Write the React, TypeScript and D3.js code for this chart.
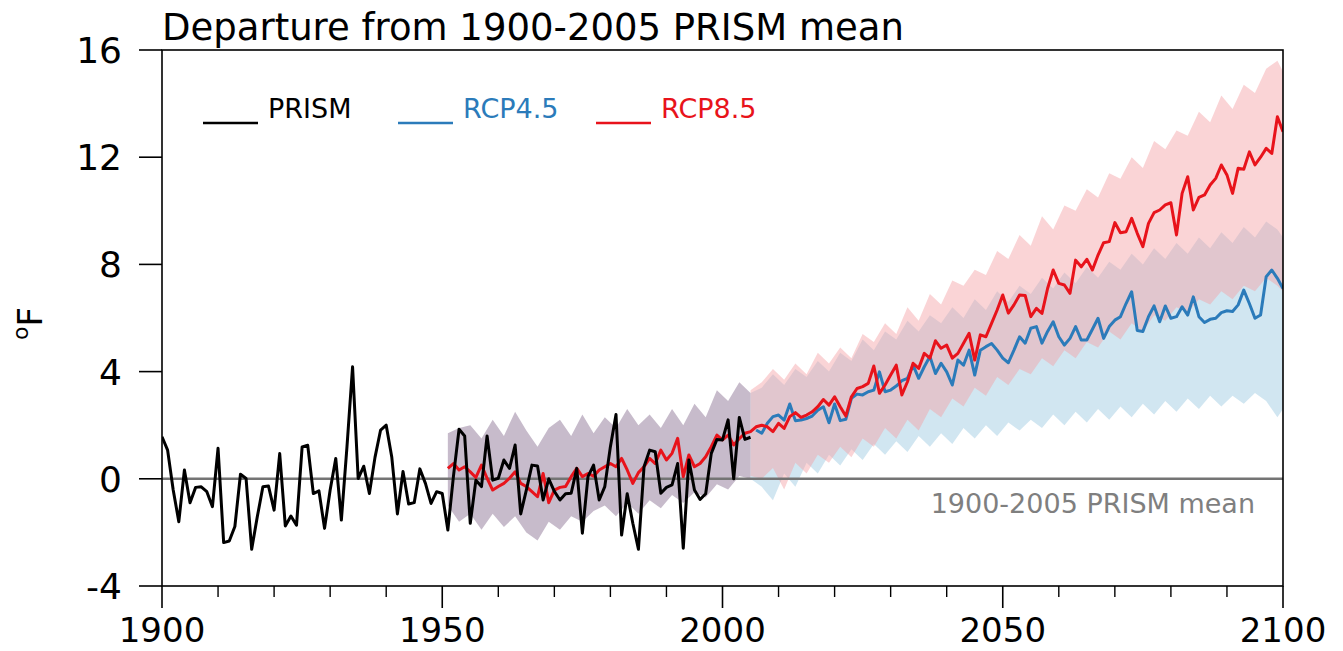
import * as d3 from 'd3';

// observed PRISM annual departures, 1900-2005 (°F)
const prismStart = 1900;
const prism = [
  1.57, 1.07, -0.42, -1.6, 0.33, -0.89, -0.32, -0.3, -0.48, -1.04,
  1.14, -2.38, -2.32, -1.78, 0.17, 0.01, -2.63, -1.42, -0.3, -0.27,
  -1.17, 0.94, -1.76, -1.39, -1.73, 1.19, 1.25, -0.55, -0.45, -1.85,
  -0.42, 0.76, -1.54, 1.19, 4.18, 0.01, 0.47, -0.55, 0.8, 1.82,
  2.0, 0.8, -1.31, 0.27, -0.94, -0.89, 0.37, -0.17, -0.92, -0.48,
  -0.55, -1.91, 0.1, 1.85, 1.6, -1.66, -0.05, -0.29, 1.6, -0.05,
  0.02, 0.7, 0.39, 1.26, -1.31, -0.42, 0.51, 0.48, -0.79, 0.0,
  -0.47, -0.79, -0.56, -0.54, 0.39, -2.03, 0.08, 0.51, -0.79, -0.29,
  1.2, 2.4, -2.1, -0.56, -1.66, -2.63, 0.45, 1.07, 1.01, -0.54,
  -0.32, -0.23, 0.57, -2.59, 0.7, -0.42, -0.77, -0.56, 0.95, 1.47,
  1.45, 2.2, 0.0, 2.29, 1.47, 1.55,
];

// model mean, historical + RCP8.5, 1951-2100
const rcp85Start = 1951;
const rcp85 = [
  0.39, 0.57, 0.33, 0.45, 0.26, 0.05, 0.51, 0.02, -0.42,
  -0.29, -0.17, 0.02, 0.26, -0.17, -0.29, -0.48, -0.67, 0.2, -0.89,
  -0.42, -0.32, -0.29, 0.08, 0.39, 0.08, 0.2, 0.1, 0.33, 0.45,
  0.57, 0.45, 0.76, 0.33, -0.17, 0.23, 0.45, 0.76, 0.57, 1.07,
  0.7, 0.95, 1.51, 0.08, 0.89, 0.45, 0.57, 0.82, 1.2, 1.63,
  1.45, 1.63, 1.26, 1.5, 1.7, 1.76,
  1.94, 2.0, 1.94, 1.76, 2.07, 1.88, 2.32, 2.47, 2.29, 2.38,
  2.5, 2.69, 2.96, 2.75, 3.06, 2.69, 2.34, 3.06, 3.37, 3.44,
  3.56, 4.21, 3.19, 3.5, 3.87, 4.24, 3.13, 3.62, 4.31, 4.12,
  4.68, 4.5, 5.15, 4.87, 4.99, 4.5, 4.68, 5.06, 5.43, 4.43,
  5.37, 5.3, 5.8, 6.3, 6.86, 6.18, 6.49, 6.86, 6.84, 6.05,
  6.36, 6.17, 7.1, 7.79, 7.29, 7.23, 6.92, 8.16, 7.91, 8.19,
  7.79, 8.35, 8.81, 8.85, 9.56, 9.18, 9.22, 9.72, 9.16, 8.66,
  9.53, 9.93, 10.03, 10.22, 10.3, 9.1, 10.65, 11.27, 10.03, 10.5,
  10.59, 10.96, 11.21, 11.71, 11.34, 10.65, 11.59, 11.55, 12.2, 11.71,
  12.0, 12.33, 12.14, 13.51, 12.95,
];

// model mean, RCP4.5, 2006-2100
const rcp45Start = 2006;
const rcp45 = [
  1.82, 1.7, 2.07, 2.32, 2.38, 2.19, 2.79, 2.17, 2.19, 2.25,
  2.34, 2.56, 2.69, 2.09, 2.79, 2.17, 2.22, 3.0, 3.16, 3.13,
  3.25, 3.31, 3.99, 3.25, 3.31, 3.46, 3.66, 3.75, 4.24, 3.75,
  4.18, 4.56, 3.93, 4.31, 3.99, 3.5, 4.43, 4.24, 4.8, 3.87,
  4.8, 4.93, 5.05, 4.8, 4.5, 4.33, 4.8, 5.3, 5.06, 5.62,
  5.68, 5.06, 5.5, 5.86, 5.3, 4.99, 5.24, 5.68, 5.18, 5.18,
  5.58, 5.99, 5.24, 5.68, 5.92, 6.05, 6.54, 6.98, 5.53, 5.5,
  6.05, 6.45, 5.86, 6.45, 5.99, 6.05, 6.42, 6.11, 6.79, 6.05,
  5.83, 5.95, 5.99, 6.2, 6.27, 6.24, 6.49, 7.04, 6.54, 5.99,
  6.11, 7.54, 7.79, 7.48, 7.1,
];

// model range, historical (1951-2005, every other year)
const histBandYears = d3.range(1951, 2006, 2);
const histUpper = [
  1.7, 1.9, 2.0, 1.5, 2.2, 1.6, 2.5, 1.8, 1.2, 1.9,
  2.2, 1.6, 2.4, 1.7, 2.3, 1.9, 2.6, 2.0, 2.4, 1.9,
  2.6, 2.0, 2.8, 2.3, 3.3, 2.9, 3.6, 3.2,
];
const histLower = [
  -1.0, -1.6, -1.3, -1.9, -1.3, -1.8, -1.4, -2.0, -2.3, -1.6,
  -1.9, -1.4, -1.6, -1.2, -1.0, -1.4, -0.9, -1.3, -0.8, -1.1,
  -0.6, -0.9, -0.5, -0.7, -0.2, -0.4, 0.1, 0.0,
];

// model range, scenarios (2005-2099 every other year, then 2100)
const futureBandYears = [...d3.range(2005, 2100, 2), 2100];
const rcp85Upper = [
  3.3, 3.6, 4.1, 3.7, 4.3, 3.9, 4.7, 4.3, 4.9, 4.5,
  5.4, 5.1, 5.8, 5.4, 6.4, 5.9, 6.9, 6.5, 7.4, 7.2,
  7.8, 7.6, 8.5, 8.2, 9.1, 8.7, 9.8, 9.3, 10.2, 10.0,
  10.8, 10.5, 11.4, 11.2, 12.0, 11.6, 12.6, 12.3, 13.0, 12.8,
  13.7, 13.3, 14.3, 13.8, 14.7, 14.4, 15.3, 15.6, 15.2,
];
const rcp85Lower = [
  0.1, 0.0, 0.4, -0.4, 0.6, 0.2, 0.9, 0.6, 1.2, 0.8,
  1.5, 1.2, 1.9, 1.5, 2.2, 1.8, 2.6, 2.3, 3.0, 2.7,
  3.4, 3.1, 3.8, 3.5, 4.1, 3.9, 4.5, 4.2, 4.8, 4.5,
  5.1, 4.9, 5.5, 5.2, 5.8, 5.5, 6.1, 5.9, 6.4, 6.2,
  6.7, 6.5, 7.0, 6.7, 7.2, 7.0, 7.5, 7.2, 7.0,
];
const rcp45Upper = [
  3.2, 3.4, 3.9, 3.5, 4.1, 3.8, 4.4, 4.0, 4.7, 4.4,
  5.2, 4.8, 5.5, 5.2, 5.9, 5.5, 6.1, 5.8, 6.4, 6.0,
  6.7, 6.3, 7.0, 6.6, 7.2, 6.9, 7.5, 7.1, 7.7, 7.3,
  7.9, 7.5, 8.1, 7.8, 8.4, 8.0, 8.6, 8.2, 8.8, 8.4,
  9.0, 8.6, 9.2, 8.8, 9.4, 9.0, 9.6, 9.3, 9.0,
];
const rcp45Lower = [
  0.0, -0.3, -0.8, 0.2, -0.3, 0.6, 0.2, 0.9, 0.5, 1.1,
  0.7, 1.3, 0.9, 1.4, 1.0, 1.6, 1.2, 1.7, 1.3, 1.9,
  1.5, 2.0, 1.6, 2.1, 1.8, 2.2, 1.9, 2.4, 2.0, 2.5,
  2.1, 2.6, 2.2, 2.7, 2.3, 2.8, 2.4, 2.9, 2.5, 3.0,
  2.6, 3.1, 2.7, 3.1, 2.8, 3.2, 2.9, 2.3, 2.6,
];

const yTicks = [-4, 0, 4, 8, 12, 16];
const xMajorTicks = [1900, 1950, 2000, 2050, 2100];
const xMinorTicks = d3.range(1910, 2100, 10).filter((y) => y % 50 !== 0);

const W = 1343;
const H = 651;
const M = { left: 162, right: 1283, top: 50, bottom: 586 };
const FONT = 'DejaVu Sans, sans-serif';

const App = () => {
  const x = d3.scaleLinear().domain([1900, 2100]).range([M.left, M.right]);
  const y = d3.scaleLinear().domain([-4, 16]).range([M.bottom, M.top]);

  const series = (vals: number[], start: number) =>
    vals.map((v, i) => [start + i, v] as [number, number]);

  const line = d3
    .line<[number, number]>()
    .x((d) => x(d[0]))
    .y((d) => y(d[1]));

  const band = (years: number[], lo: number[], hi: number[]) =>
    d3
      .area<number>()
      .x((yr) => x(yr))
      .y0((_yr, i) => y(lo[i]))
      .y1((_yr, i) => y(hi[i]))(years) || '';

  return (
    <svg
      width={W}
      height={H}
      style={{ position: 'absolute', left: 0, top: 0, background: '#fff' }}
      fontFamily={FONT}
    >
      <defs>
        <clipPath id="plot">
          <rect x={M.left} y={M.top} width={M.right - M.left} height={M.bottom - M.top} />
        </clipPath>
      </defs>

      <g clipPath="url(#plot)">
        <path d={band(futureBandYears, rcp45Lower, rcp45Upper)} fill="#a4cde4" fillOpacity={0.5} />
        <path d={band(futureBandYears, rcp85Lower, rcp85Upper)} fill="#f5a0a4" fillOpacity={0.45} />
        <path d={band(histBandYears, histLower, histUpper)} fill="#b4a4ba" fillOpacity={0.75} />

        <line x1={M.left} x2={M.right} y1={y(0)} y2={y(0)} stroke="#747474" strokeWidth={2.4} />

        <path d={line(series(rcp45, rcp45Start)) || ''} fill="none" stroke="#2b7bba" strokeWidth={3} strokeLinejoin="round" />
        <path d={line(series(rcp85, rcp85Start)) || ''} fill="none" stroke="#e8131b" strokeWidth={3} strokeLinejoin="round" />
        <path d={line(series(prism, prismStart)) || ''} fill="none" stroke="#000" strokeWidth={3} strokeLinejoin="round" />
      </g>

      <rect
        x={M.left}
        y={M.top}
        width={M.right - M.left}
        height={M.bottom - M.top}
        fill="none"
        stroke="#000"
        strokeWidth={1.6}
      />

      {yTicks.map((t) => (
        <g key={t}>
          <line x1={M.left - 23} x2={M.left} y1={y(t)} y2={y(t)} stroke="#000" strokeWidth={1.6} />
          <text x={M.left - 40} y={y(t) + 13} textAnchor="end" fontSize={36}>
            {t}
          </text>
        </g>
      ))}

      {xMinorTicks.map((t) => (
        <line key={t} x1={x(t)} x2={x(t)} y1={M.bottom} y2={M.bottom + 11} stroke="#000" strokeWidth={1.4} />
      ))}
      {xMajorTicks.map((t) => (
        <g key={t}>
          <line x1={x(t)} x2={x(t)} y1={M.bottom} y2={M.bottom + 22} stroke="#000" strokeWidth={1.6} />
          <text x={x(t)} y={642} textAnchor="middle" fontSize={34}>
            {t}
          </text>
        </g>
      ))}

      <text x={M.left} y={40} fontSize={37}>
        Departure from 1900-2005 PRISM mean
      </text>

      <text transform="translate(42,340) rotate(-90)" fontSize={34}>
        <tspan fontSize={22} dy={-14}>o</tspan>
        <tspan dy={14}>F</tspan>
      </text>

      {[
        { label: 'PRISM', color: '#000', textColor: '#000', x0: 203 },
        { label: 'RCP4.5', color: '#2b7bba', textColor: '#2b7bba', x0: 398 },
        { label: 'RCP8.5', color: '#e8131b', textColor: '#e8131b', x0: 596 },
      ].map((d) => (
        <g key={d.label}>
          <line x1={d.x0} x2={d.x0 + 55} y1={123} y2={123} stroke={d.color} strokeWidth={2.6} />
          <text x={d.x0 + 65} y={118} fontSize={27} fill={d.textColor}>
            {d.label}
          </text>
        </g>
      ))}

      <text x={1255} y={513} textAnchor="end" fontSize={27} fill="#7f7f7f">
        1900-2005 PRISM mean
      </text>
    </svg>
  );
};

export default App;
